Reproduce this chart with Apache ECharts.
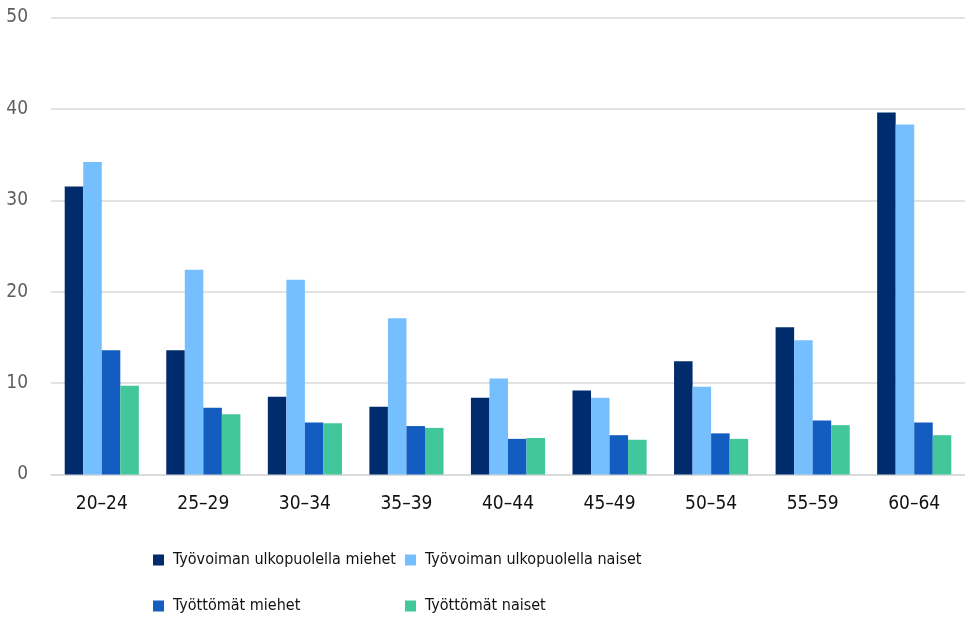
<!DOCTYPE html>
<html>
<head>
<meta charset="utf-8">
<script src="https://cdn.jsdelivr.net/npm/echarts@6/dist/echarts.min.js"></script>
<style>
  html, body { margin: 0; padding: 0; background: #fff; }
  #chart { width: 965px; height: 618px; }
</style>
</head>
<body>
<div id="chart"></div>
<script>
// ikäryhmät
var categories = ['20–24', '25–29', '30–34', '35–39', '40–44', '45–49', '50–54', '55–59', '60–64'];
var seriesNames = ['Työvoiman ulkopuolella miehet', 'Työvoiman ulkopuolella naiset', 'Työttömät miehet', 'Työttömät naiset'];
var ulkoMiehet = [31.5, 13.6, 8.5, 7.4, 8.4, 9.2, 12.4, 16.1, 39.6];
var ulkoNaiset = [34.2, 22.4, 21.3, 17.1, 10.5, 8.4, 9.6, 14.7, 38.3];
var tyottomatMiehet = [13.6, 7.3, 5.7, 5.3, 3.9, 4.3, 4.5, 5.9, 5.7];
var tyottomatNaiset = [9.7, 6.6, 5.6, 5.1, 4.0, 3.8, 3.9, 5.4, 4.3];
var yTicks = [0, 10, 20, 30, 40, 50];
var colors = ['#002C6E', '#75BFFF', '#125DBF', '#42C79A'];

var font = '"DejaVu Sans Condensed", "Liberation Sans", sans-serif';
var values = [ulkoMiehet, ulkoNaiset, tyottomatMiehet, tyottomatNaiset];

var series = [];
for (var i = 0; i < values.length; i++) {
    series.push({
        name: seriesNames[i],
        type: 'bar',
        data: values[i],
        barGap: '0%',
        barCategoryGap: '27%',
        itemStyle: { color: colors[i] }
    });
}

// legend positions (two columns, two rows)
var legendPos = [[153, 552], [405, 552], [153, 598], [405, 598]];
var legends = [];
for (var j = 0; j < seriesNames.length; j++) {
    legends.push({
        data: [seriesNames[j]],
        left: legendPos[j][0],
        top: legendPos[j][1],
        padding: 0,
        icon: 'rect',
        itemWidth: 11,
        itemHeight: 11,
        selectedMode: false,
        textStyle: { fontFamily: font, fontSize: 16, color: '#111', padding: [0, 0, 0, 4] }
    });
}

var myChart = echarts.init(document.getElementById('chart'));
var option = {
    animation: false,
    color: colors,
    legend: legends,
    grid: { left: 51, top: 17.5, width: 926, height: 457, containLabel: false },
    xAxis: {
        type: 'category',
        data: categories,
        axisLine: { lineStyle: { color: '#d9d9d9', width: 1.5 } },
        axisTick: { show: false },
        axisLabel: { fontFamily: font, fontSize: 19, color: '#111', margin: 20 }
    },
    yAxis: {
        type: 'value',
        min: yTicks[0],
        max: yTicks[yTicks.length - 1],
        interval: 10,
        axisLine: { show: false },
        axisTick: { show: false },
        splitLine: { lineStyle: { color: '#d9d9d9', width: 1.5 } },
        axisLabel: { fontFamily: font, fontSize: 19, color: '#5f5f5f', margin: 23 }
    },
    series: series
};
myChart.setOption(option);
</script>
</body>
</html>
